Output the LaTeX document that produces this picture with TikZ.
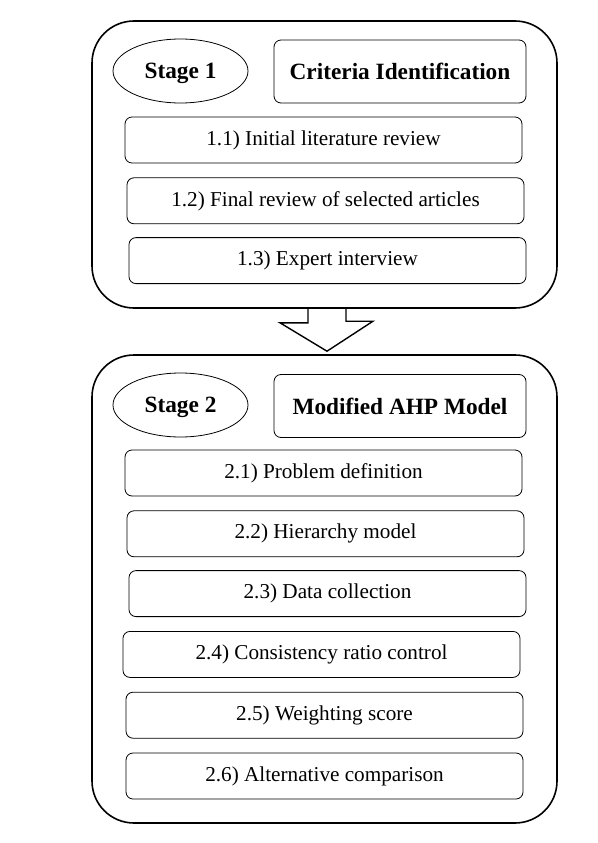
\documentclass[tikz,border=0pt]{standalone}
\usepackage{fontspec}
\setmainfont{Liberation Serif}
\usetikzlibrary{positioning,shapes.geometric}

\begin{document}
\begin{tikzpicture}[
	  x=1pt,
	  y=-1pt,
	  every node/.style={font=\fontsize{21.2}{24}\selectfont},
	  node distance=14pt,
	  stagebox/.style={
		  draw,
		  line width=1.6pt,
		  rounded corners=42pt,
		  minimum width=465pt,
		  inner sep=0pt
	  },
	  stepbox/.style={
		  draw,
		  line width=0.8pt,
		  rounded corners=7pt,
		  minimum width=397pt,
		  minimum height=46pt,
		  inner sep=0pt
	  },
	  stagelabel/.style={
		  ellipse,
		  draw,
		  line width=0.8pt,
		  minimum width=135pt,
		  minimum height=64pt,
		  inner sep=0pt,
		  text depth=0pt,
		  font=\fontsize{23.3}{26}\selectfont\bfseries
	  },
	  titlebox/.style={
		  stepbox,
		  minimum width=252pt,
		  minimum height=63pt,
		  font=\fontsize{23.3}{26}\selectfont\bfseries
	  }
  ]
  \useasboundingbox (0,0) rectangle (597,843);

  % Stage 1
  \node [stagebox, minimum height=287pt] (stage1) at (324.5,164.5) {};
  \node [stagelabel] (ell1) at (180.5,71) {Stage 1};
  \node [titlebox] (title1) at (400,71.5) {Criteria Identification};
  \node [stepbox] (s11) at (323.5,140) {1.1) Initial literature review};
  \node [stepbox, below=14pt of s11, xshift=2pt] (s12) {1.2) Final review of selected articles};
  \node [stepbox, below=13pt of s12, xshift=2pt] (s13) {1.3) Expert interview};

  % Stage 2
  \node [stagebox, minimum height=468pt] (stage2) at (324.5,589) {};
  \node [stagelabel] (ell2) at (180.5,405) {Stage 2};
  \node [titlebox] (title2) at (400,406) {Modified AHP Model};
  \node [stepbox] (s21) at (323.5,473) {2.1) Problem definition};
  \node [stepbox, below=14pt of s21, xshift=2pt] (s22) {2.2) Hierarchy model};
  \node [stepbox, below=13pt of s22, xshift=2pt] (s23) {2.3) Data collection};
  \node [stepbox, below=14pt of s23, xshift=-6pt] (s24) {2.4) Consistency ratio control};
  \node [stepbox, below=14pt of s24, xshift=3pt] (s25) {2.5) Weighting score};
  \node [stepbox, below=14pt of s25] (s26) {2.6) Alternative comparison};

  % Block arrow between the stages
  \draw [line width=1.4pt, line join=miter]
    ([xshift=-16.5pt]stage1.south) -- ++(0,14) -- ++(-28,0)
    -- ([xshift=2.5pt,yshift=3pt]stage2.north) -- ++(46,-30) -- ++(-27,0) -- ++(0,-14);

\end{tikzpicture}
\end{document}
